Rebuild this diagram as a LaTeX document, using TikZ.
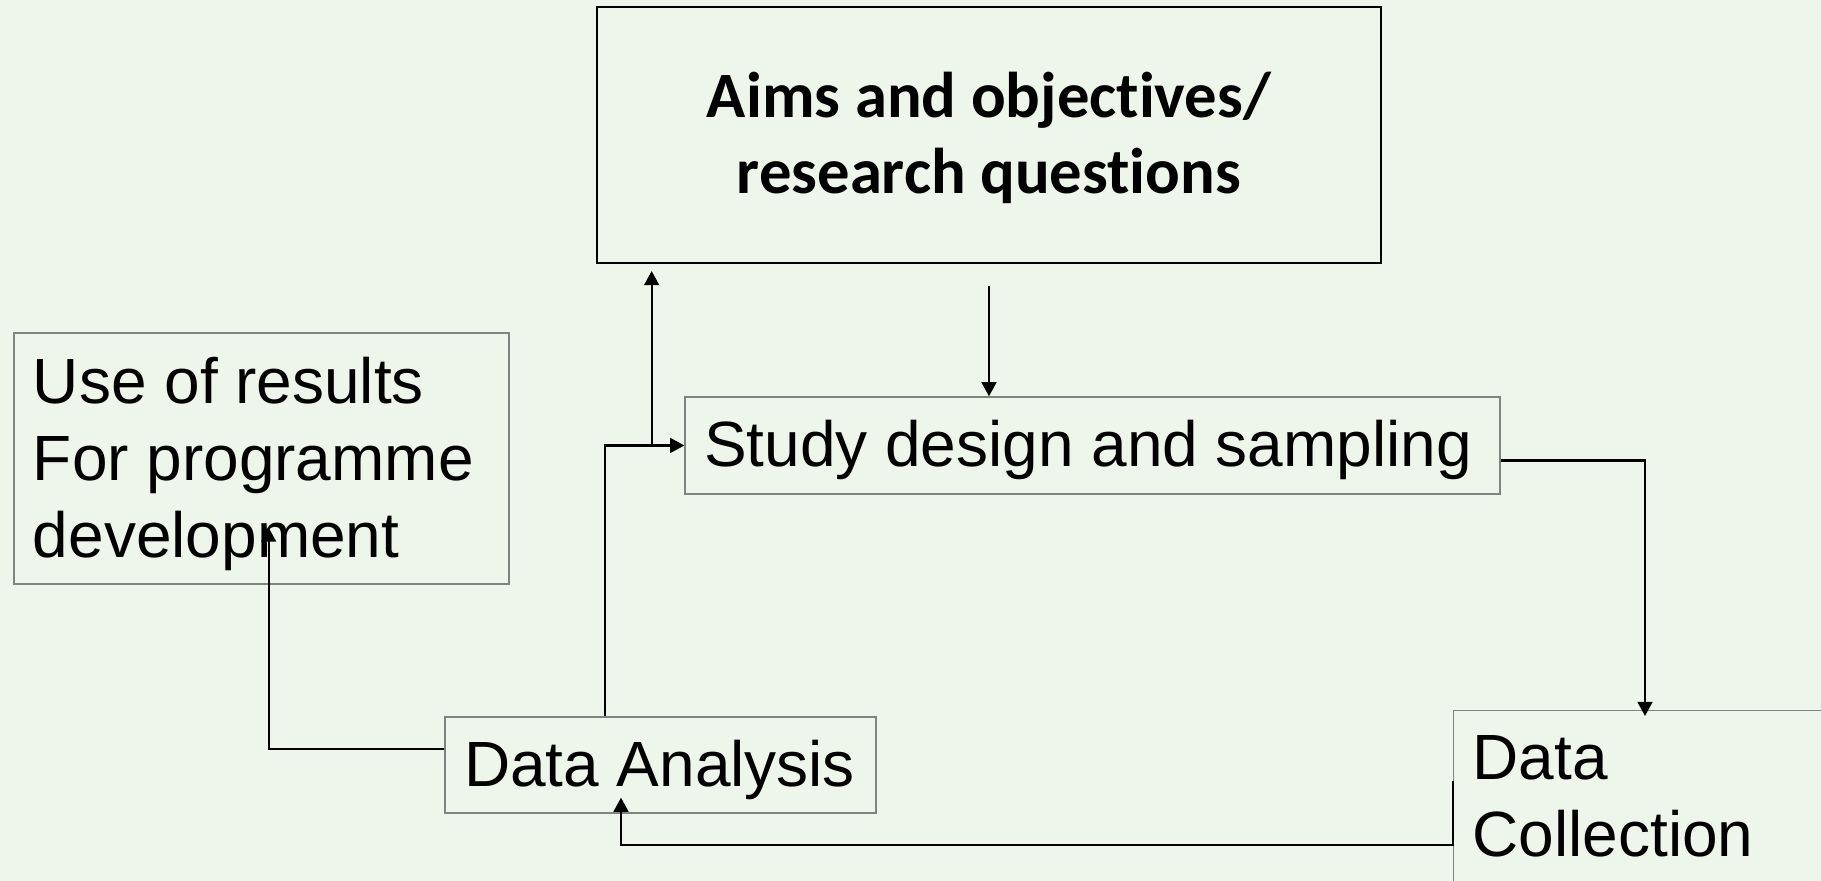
\documentclass[tikz,border=0pt]{standalone}
\usepackage{fontspec}
\setmainfont{Liberation Sans}
\newfontfamily\calibrifont[Ligatures=NoCommon]{Carlito}
\usetikzlibrary{arrows.meta, positioning, calc}
\definecolor{bgcolor}{RGB}{238, 245, 235}
\definecolor{edgecolor}{RGB}{128, 132, 128}

\begin{document}
\begin{tikzpicture}[every node/.style={align=flush left},
    stagebox/.style={draw=edgecolor, line width=0.4pt, inner xsep=0.19cm, font=\fontsize{18.2}{21.9}\selectfont},
    flow/.style={-{Triangle[length=4pt, width=4.2pt]}, line width=0.6pt, black}]
        % Page and background
        \fill[bgcolor] (0, 0) rectangle (18.21, 8.81);
        \useasboundingbox (0, 0) rectangle (18.21, 8.81);
        \clip (0, 0) rectangle (18.21, 8.81);
        
        % Boxes
        \node[draw, line width=0.6pt, minimum width=7.84cm, minimum height=2.56cm, align=center, text depth=0.04cm, font=\calibrifont\bfseries\fontsize{18.4}{21.6}\selectfont] (aims) at (9.89, 7.46) {Aims and objectives/\\research questions};
        \node[stagebox, minimum height=0.97cm, text width=7.77cm, text height=0.45cm, text depth=0.02cm] (study) at (10.925, 4.355) {Study design and sampling};
        \node[stagebox, minimum height=2.51cm, text width=4.57cm, text depth=1.57cm] (use) at (2.615, 4.225) {Use of results\\For programme\\development};
        \node[stagebox, minimum height=0.96cm, text width=3.93cm, text height=0.45cm, text depth=0.02cm] (analysis) at (6.605, 1.16) {Data Analysis};
        \node[stagebox, anchor=north west, inner ysep=0.25cm] (dcol) at (14.53, 1.71) {\parbox[t][2cm][t]{3.5cm}{Data\\Collection}};
        
        % Connections
        \draw[flow, shorten <=0.22cm] (aims.south) -- (aims.south |- study.north);
        \draw[flow, shorten >=-0.06cm] ([yshift=-0.15cm]study.east) -| ([xshift=1.92cm]dcol.north west);
        \draw[flow, shorten >=-0.16cm] ([yshift=-0.71cm]dcol.north west) -- ([yshift=-1.35cm]dcol.north west) -| ([xshift=-0.395cm]analysis.south);
        \draw[flow] ([xshift=-0.555cm]analysis.north) |- (study.west);
        \coordinate (split) at ([xshift=0.557cm]aims.south west |- study.west);
        \draw[flow, shorten >=0.07cm] (split) -- ([xshift=0.557cm]aims.south west);
        \draw[flow, shorten >=-0.57cm] ([yshift=0.16cm]analysis.west) -| ([xshift=0.072cm]use.south);
        
    \end{tikzpicture}
\end{document}
